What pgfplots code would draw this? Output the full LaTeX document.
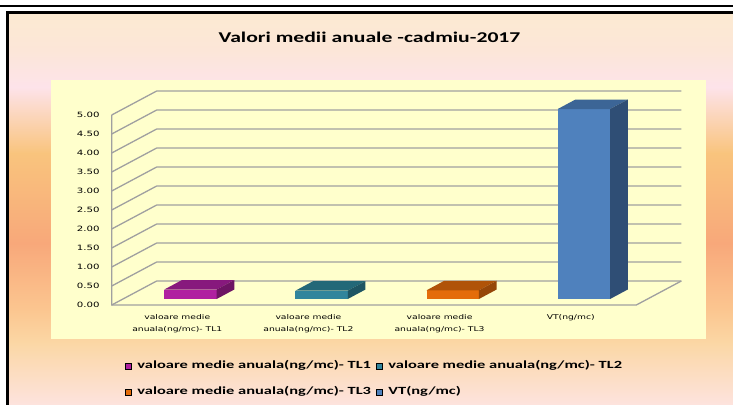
\documentclass[border=0pt]{standalone}
\usepackage{pgfplots}
\pgfplotsset{compat=1.18}
\usepackage{fontspec}
\setmainfont{Carlito}
\newfontfamily\titlefont[FakeStretch=1.45]{Carlito}
\newfontfamily\legfont[FakeStretch=1.5]{Carlito}
\newfontfamily\tkfont[FakeStretch=1.4]{DejaVu Sans}
\newcommand\ytfont{\tkfont\fontsize{7.3}{9}\selectfont}
\newcommand\catfont{\tkfont\fontsize{6.6}{11.6}\selectfont}

\definecolor{tlA}{HTML}{B020A0}\definecolor{tlAtop}{HTML}{87197D}\definecolor{tlAside}{HTML}{6E1464}
\definecolor{tlB}{HTML}{31859C}\definecolor{tlBtop}{HTML}{236878}\definecolor{tlBside}{HTML}{1E5563}
\definecolor{tlC}{HTML}{E46C0A}\definecolor{tlCtop}{HTML}{B05308}\definecolor{tlCside}{HTML}{964608}
\definecolor{vt}{HTML}{4F81BD}\definecolor{vttop}{HTML}{3C6596}\definecolor{vtside}{HTML}{2F4E75}
\definecolor{plotbg}{HTML}{FFFFCC}
\definecolor{gridc}{HTML}{A0A0A0}
\definecolor{bgA}{HTML}{FCEAD2}\definecolor{bgB}{HTML}{FCE6D8}\definecolor{bgC}{HTML}{FDE3EA}
\definecolor{bgD}{HTML}{F9C47D}\definecolor{bgE}{HTML}{F8A87A}\definecolor{bgF}{HTML}{FBC690}
\definecolor{bgG}{HTML}{FBD7A5}\definecolor{bgH}{HTML}{FDE3DE}

% data
\newcommand\vA{0.25}
\newcommand\vB{0.22}
\newcommand\vC{0.23}
\newcommand\vD{5.00}

% 3D faces of a bar: #1 category, #2 value, #3 top colour, #4 side colour
\newcommand\barfaces[4]{%
  \fill[#3] ([shift={(-12.95bp,6bp)}]axis cs:#1,#2) -- ([shift={(39.35bp,6bp)}]axis cs:#1,#2)
     -- ([shift={(57.05bp,15.5bp)}]axis cs:#1,#2) -- ([shift={(4.75bp,15.5bp)}]axis cs:#1,#2) -- cycle;
  \fill[#4] ([shift={(39.35bp,6bp)}]axis cs:#1,0) -- ([shift={(39.35bp,6bp)}]axis cs:#1,#2)
     -- ([shift={(57.05bp,15.5bp)}]axis cs:#1,#2) -- ([shift={(57.05bp,15.5bp)}]axis cs:#1,0) -- cycle;
}

\begin{document}
\begin{tikzpicture}
\useasboundingbox (0,0) rectangle (733bp,-405bp);
\fill[white] (0,0) rectangle (733bp,-405bp);
% background gradient
\shade[top color=bgA, bottom color=bgB] (9bp,-14bp) rectangle (733bp,-50.5bp);
\shade[top color=bgB, bottom color=bgC] (9bp,-50bp) rectangle (733bp,-87.5bp);
\shade[top color=bgC, bottom color=bgD] (9bp,-87bp) rectangle (733bp,-153.5bp);
\shade[top color=bgD, bottom color=bgE] (9bp,-153bp) rectangle (733bp,-243.5bp);
\shade[top color=bgE, bottom color=bgF] (9bp,-243bp) rectangle (733bp,-310.5bp);
\shade[top color=bgF, bottom color=bgG] (9bp,-310bp) rectangle (733bp,-343.5bp);
\shade[top color=bgG, bottom color=bgH] (9bp,-343bp) rectangle (733bp,-405bp);
% frame lines
\fill[black] (0,-5bp) rectangle (733bp,-7.3bp);
\fill[black] (6bp,-11bp) rectangle (733bp,-14bp);
\fill[black] (6bp,-11bp) rectangle (9bp,-405bp);
% plot area
\fill[plotbg] (51bp,-80bp) rectangle (705.7bp,-339.3bp);
% title
\node at (369.5bp,-37bp) {\titlefont\bfseries\fontsize{15}{18}\selectfont Valori medii anuale -cadmiu-2017};

\begin{axis}[
  at={(111.7bp,-305bp)}, anchor=south west,
  scale only axis, width=524.6bp, height=190bp,
  xmin=-0.5, xmax=3.5, ymin=0, ymax=5,
  clip=false,
  axis line style={draw=none},
  major tick length=0pt,
  xtick={0,1,2,3},
  xticklabels={{valoare medie\\anuala(ng/mc)- TL1},{valoare medie\\anuala(ng/mc)- TL2},{valoare medie\\anuala(ng/mc)- TL3},{VT(ng/mc)}},
  xticklabel style={align=center, font=\catfont, inner sep=0pt, anchor=north, yshift=-9.5bp},
  ytick={0,0.5,...,5},
  yticklabel style={font=\ytfont, anchor=east, inner sep=0pt, xshift=-12bp},
  /pgf/number format/fixed, /pgf/number format/fixed zerofill,
  /pgf/number format/precision=2, /pgf/number format/assume math mode=true,
  legend columns=2, legend cell align=left,
  legend image code/.code={\fill[#1] (0bp,-3bp) rectangle (6bp,3bp);},
  legend style={at={(0.02535,-0.2905)}, anchor=north west, draw=none, fill=none,
    inner sep=0pt, outer sep=0pt, font=\legfont\bfseries\fontsize{11}{13}\selectfont,
    nodes={inner sep=0pt, text height=8.5bp, text depth=2.5bp},
    row sep=15bp, column sep=0pt,
    /tikz/every odd column/.append style={column sep=6bp},
    /tikz/every even column/.append style={column sep=5bp}},
]
% back wall grid lines
\pgfplotsinvokeforeach{0,0.5,...,5}{
  \draw[gridc, line width=1.3bp] (axis cs:-0.5,#1) -- ([shift={(45bp,24bp)}]axis cs:-0.5,#1) -- ([shift={(45bp,24bp)}]axis cs:3.5,#1);
}
% floor and front axis
\draw[gridc, line width=1.3bp] (axis cs:-0.5,5) -- (axis cs:-0.5,0) -- (axis cs:3.5,0) -- ([shift={(45bp,24bp)}]axis cs:3.5,0);

% bars (front faces)
\addplot[ybar, bar width=52.3bp, bar shift=13.2bp, yshift=6bp, fill=tlA, draw=none, forget plot] coordinates {(0,\vA)};
\addplot[ybar, bar width=52.3bp, bar shift=13.2bp, yshift=6bp, fill=tlB, draw=none, forget plot] coordinates {(1,\vB)};
\addplot[ybar, bar width=52.3bp, bar shift=13.2bp, yshift=6bp, fill=tlC, draw=none, forget plot] coordinates {(2,\vC)};
\addplot[ybar, bar width=52.3bp, bar shift=13.2bp, yshift=6bp, fill=vt, draw=none, forget plot] coordinates {(3,\vD)};
\barfaces{0}{\vA}{tlAtop}{tlAside}
\barfaces{1}{\vB}{tlBtop}{tlBside}
\barfaces{2}{\vC}{tlCtop}{tlCside}
\barfaces{3}{\vD}{vttop}{vtside}

\addlegendimage{fill=tlA}\addlegendentry{valoare medie anuala(ng/mc)- TL1}
\addlegendimage{fill=tlB}\addlegendentry{valoare medie anuala(ng/mc)- TL2}
\addlegendimage{fill=tlC}\addlegendentry{valoare medie anuala(ng/mc)- TL3}
\addlegendimage{fill=vt}\addlegendentry{VT(ng/mc)}
\end{axis}
\end{tikzpicture}
\end{document}
